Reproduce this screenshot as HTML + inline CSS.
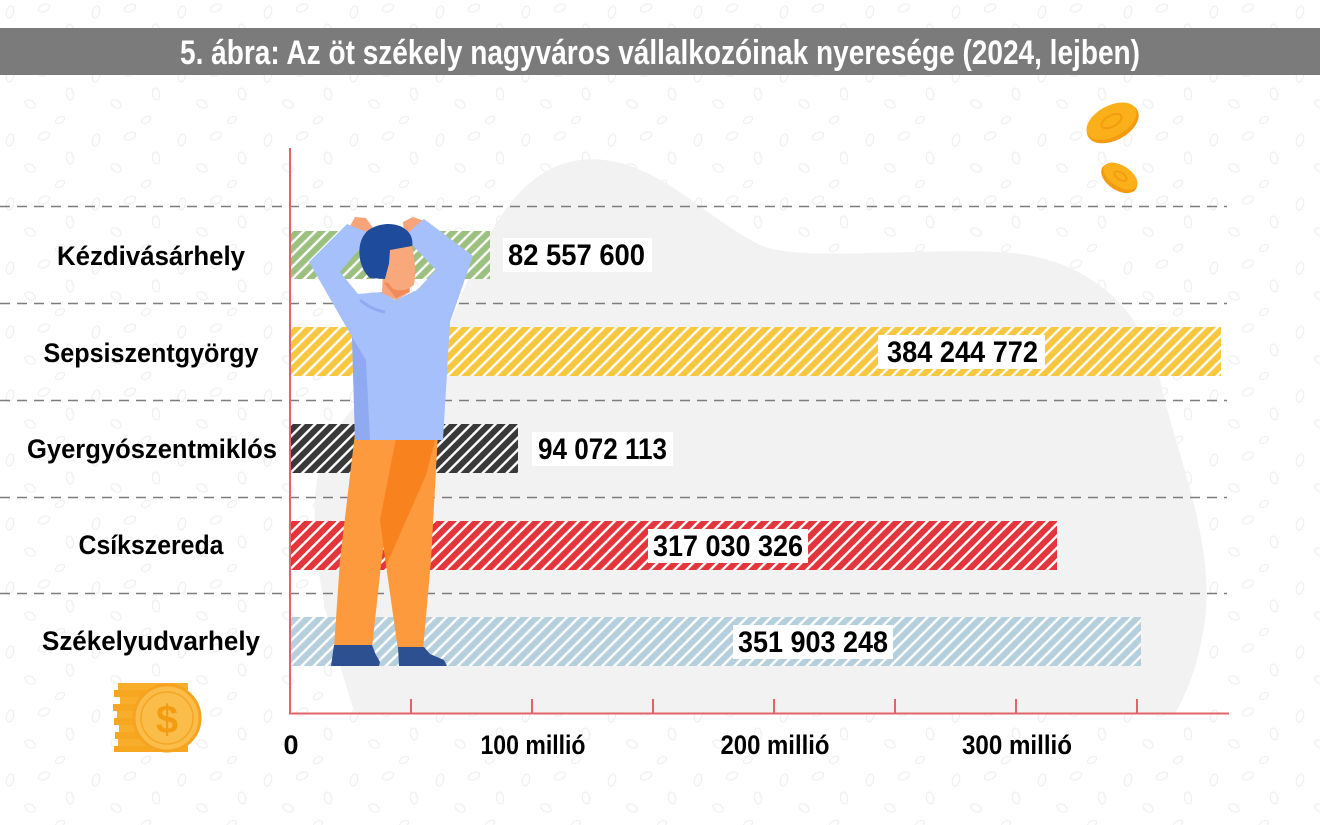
<!DOCTYPE html>
<html>
<head>
<meta charset="utf-8">
<style>
html,body{margin:0;padding:0;background:#fff;}
body{width:1320px;height:825px;overflow:hidden;}
svg{display:block;}
text{font-family:"Liberation Sans Narrow","Liberation Sans",sans-serif;font-weight:bold;}
</style>
</head>
<body>
<svg width="1320" height="825" viewBox="0 0 1320 825" xmlns="http://www.w3.org/2000/svg">
<defs>
  <pattern id="bgp" width="86" height="64" patternUnits="userSpaceOnUse">
    <ellipse cx="10" cy="12" rx="3.5" ry="6" fill="none" stroke="#f0f0f0" stroke-width="1.3" transform="rotate(15 10 12)"/>
    <ellipse cx="44" cy="8" rx="6" ry="3.5" fill="none" stroke="#f0f0f0" stroke-width="1.3" transform="rotate(-25 44 8)"/>
    <ellipse cx="30" cy="40" rx="5.5" ry="3.5" fill="none" stroke="#f0f0f0" stroke-width="1.3" transform="rotate(30 30 40)"/>
    <ellipse cx="70" cy="30" rx="3.5" ry="6" fill="none" stroke="#f0f0f0" stroke-width="1.3" transform="rotate(-10 70 30)"/>
    <ellipse cx="60" cy="56" rx="5" ry="3" fill="none" stroke="#f1f1f1" stroke-width="1.2" transform="rotate(-30 60 56)"/>
  </pattern>
  <pattern id="h" width="8.5" height="8.5" patternUnits="userSpaceOnUse" patternTransform="rotate(45)">
    <line x1="4.25" y1="-1" x2="4.25" y2="10" stroke="#ffffff" stroke-width="2.4"/>
  </pattern>
</defs>

<rect x="0" y="0" width="1320" height="825" fill="#ffffff"/>
<rect x="0" y="0" width="1320" height="825" fill="url(#bgp)"/>

<rect x="0" y="28" width="1320" height="47" fill="#7b7b7b"/>
<text x="660" y="64" font-size="34" fill="#ffffff" text-anchor="middle" textLength="960" lengthAdjust="spacingAndGlyphs">5. ábra: Az öt székely nagyváros vállalkozóinak nyeresége (2024, lejben)</text>

<path d="M 355,714 C 335,650 312,580 315,500 C 318,420 380,380 445,335 C 470,280 500,170 580,160 C 650,152 700,215 760,245 C 800,262 900,248 1000,252 C 1080,256 1140,300 1160,380 C 1175,450 1215,540 1205,620 C 1198,670 1185,695 1175,714 Z" fill="#f2f2f2"/>

<g stroke="#7d7d7d" stroke-width="1.5" stroke-dasharray="10 7">
  <line x1="0" y1="206.5" x2="1227" y2="206.5"/>
  <line x1="0" y1="303.5" x2="1227" y2="303.5"/>
  <line x1="0" y1="400.5" x2="1227" y2="400.5"/>
  <line x1="0" y1="497.5" x2="1227" y2="497.5"/>
  <line x1="0" y1="593.5" x2="1227" y2="593.5"/>
</g>

<g transform="translate(1112,122) rotate(-28)">
  <ellipse cx="0" cy="1.5" rx="28" ry="17" fill="#f39a0e"/>
  <ellipse cx="0" cy="-1" rx="27" ry="15.5" fill="#fbb01a"/>
  <ellipse cx="0" cy="-1" rx="11" ry="5.5" fill="none" stroke="#f29c10" stroke-width="2"/>
</g>
<g transform="translate(1120,177) rotate(33)">
  <ellipse cx="0" cy="1.5" rx="20" ry="12" fill="#f39a0e"/>
  <ellipse cx="0" cy="-1" rx="19" ry="10.5" fill="#fbb01a"/>
  <ellipse cx="0" cy="-1" rx="7" ry="3.5" fill="none" stroke="#f29c10" stroke-width="1.8"/>
</g>

<rect x="291" y="231" width="199" height="48" fill="#9bc07f"/>
<rect x="291" y="231" width="199" height="48" fill="url(#h)"/>
<rect x="291" y="327" width="930" height="49" fill="#f8c740"/>
<rect x="291" y="327" width="930" height="49" fill="url(#h)"/>
<rect x="291" y="424" width="227" height="49" fill="#393939"/>
<rect x="291" y="424" width="227" height="49" fill="url(#h)"/>
<rect x="291" y="521" width="766" height="49" fill="#e3353b"/>
<rect x="291" y="521" width="766" height="49" fill="url(#h)"/>
<rect x="291" y="617" width="850" height="49" fill="#b5d0dc"/>
<rect x="291" y="617" width="850" height="49" fill="url(#h)"/>

<g stroke="#e0646a" stroke-width="2">
  <line x1="290" y1="148" x2="290" y2="714"/>
  <line x1="289" y1="713.5" x2="1229" y2="713.5"/>
  <line x1="411" y1="699" x2="411" y2="713"/>
  <line x1="532" y1="699" x2="532" y2="713"/>
  <line x1="653" y1="699" x2="653" y2="713"/>
  <line x1="774" y1="699" x2="774" y2="713"/>
  <line x1="895" y1="699" x2="895" y2="713"/>
  <line x1="1016" y1="699" x2="1016" y2="713"/>
  <line x1="1137" y1="699" x2="1137" y2="713"/>
</g>

<g>
  <path d="M349,228 L355,217 L366,218 L373,228 L366,238 Z" fill="#f7a47a"/>
  <path d="M404,233 L403,222 L413,217 L424,221 L420,232 Z" fill="#f7a47a"/>
  <path d="M355,433 L399,433 L381,565 L372,648 L334,648 L340,560 Z" fill="#fd9a3e"/>
  <path d="M394,433 L438,433 L431,560 L423,650 L398,650 L386,565 Z" fill="#fd9a3e"/>
  <path d="M397,433 L437,433 L426,475 L386,566 L380,520 Z" fill="#f8821e"/>
  <path d="M334,645 L372,645 L376,655 L380,662 L379,666 L331,666 Z" fill="#2d5190"/>
  <path d="M398,647 L424,647 L430,654 L444,660 L447,666 L399,666 Z" fill="#2d5190"/>
  <path d="M355,440 L352,337 L309,262 L347,224 L372,234 L340,272 L358,294 L382,292 L395,300 L417,290 L436,270 L404,236 L424,219 L473,256 L450,322 L443,440 Z" fill="#a6c0fb"/>
  <path d="M352,337 L366,360 L370,440 L355,440 Z" fill="#8faaf0"/>
  <path d="M360,300 Q372,310 385,312" fill="none" stroke="#8faaf0" stroke-width="3"/>
  <path d="M383,272 L409,272 L410,292 L396,300 L382,293 Z" fill="#f7a47a"/>
  <path d="M384,283 L409,280 L409,292 L396,298 Z" fill="#f08a58"/>
  <path d="M370,278 C356,266 355,236 372,228 C392,218 416,228 412,247 L397,251 L389,264 L385,279 Z" fill="#1f4b9c"/>
  <path d="M390,250 L412,246 Q417,268 414,285 Q404,293 393,289 L385,279 L389,264 Z" fill="#f9a87c"/>
</g>

<rect x="503" y="238" width="149" height="34" fill="#ffffff"/>
<text x="508" y="265" font-size="30" fill="#000" textLength="137" lengthAdjust="spacingAndGlyphs">82 557 600</text>
<rect x="878" y="335" width="167" height="34" fill="#ffffff"/>
<text x="887" y="362" font-size="30" fill="#000" textLength="151" lengthAdjust="spacingAndGlyphs">384 244 772</text>
<rect x="532" y="432" width="141" height="34" fill="#ffffff"/>
<text x="538" y="459" font-size="30" fill="#000" textLength="129" lengthAdjust="spacingAndGlyphs">94 072 113</text>
<rect x="648" y="529" width="160" height="34" fill="#ffffff"/>
<text x="653" y="556" font-size="30" fill="#000" textLength="150" lengthAdjust="spacingAndGlyphs">317 030 326</text>
<rect x="733" y="625" width="160" height="34" fill="#ffffff"/>
<text x="738" y="652" font-size="30" fill="#000" textLength="150" lengthAdjust="spacingAndGlyphs">351 903 248</text>

<g font-size="27" fill="#000" text-anchor="middle">
  <text x="151" y="265" textLength="188" lengthAdjust="spacingAndGlyphs">Kézdivásárhely</text>
  <text x="151" y="362" textLength="215" lengthAdjust="spacingAndGlyphs">Sepsiszentgyörgy</text>
  <text x="152" y="458" textLength="250" lengthAdjust="spacingAndGlyphs">Gyergyószentmiklós</text>
  <text x="151" y="554" textLength="145" lengthAdjust="spacingAndGlyphs">Csíkszereda</text>
  <text x="151" y="650" textLength="218" lengthAdjust="spacingAndGlyphs">Székelyudvarhely</text>
</g>

<g font-size="27" fill="#000" text-anchor="middle">
  <text x="291" y="754">0</text>
  <text x="533" y="754" textLength="105" lengthAdjust="spacingAndGlyphs">100 millió</text>
  <text x="775" y="754" textLength="109" lengthAdjust="spacingAndGlyphs">200 millió</text>
  <text x="1017" y="754" textLength="110" lengthAdjust="spacingAndGlyphs">300 millió</text>
</g>

<g>
  <rect x="118" y="683" width="70" height="7" fill="#f9ae2b"/>
  <rect x="114" y="690" width="72" height="7" fill="#f7a61f"/>
  <rect x="120" y="697" width="68" height="7" fill="#f9ae2b"/>
  <rect x="113" y="704" width="74" height="7" fill="#f7a61f"/>
  <rect x="117" y="711" width="70" height="7" fill="#f9ae2b"/>
  <rect x="114" y="718" width="74" height="7" fill="#f7a61f"/>
  <rect x="119" y="725" width="69" height="7" fill="#f9ae2b"/>
  <rect x="115" y="732" width="72" height="7" fill="#f7a61f"/>
  <rect x="118" y="739" width="70" height="7" fill="#f9ae2b"/>
  <rect x="114" y="746" width="74" height="6" fill="#f7a61f"/>
  <circle cx="167" cy="718" r="33" fill="#fbbd49" stroke="#f6a321" stroke-width="3"/>
  <circle cx="167" cy="718" r="26" fill="none" stroke="#f5a524" stroke-width="1.5"/>
  <text x="167" y="733" font-size="40" fill="#f39c12" text-anchor="middle" font-family="Liberation Sans, sans-serif">$</text>
</g>
</svg>
</body>
</html>
